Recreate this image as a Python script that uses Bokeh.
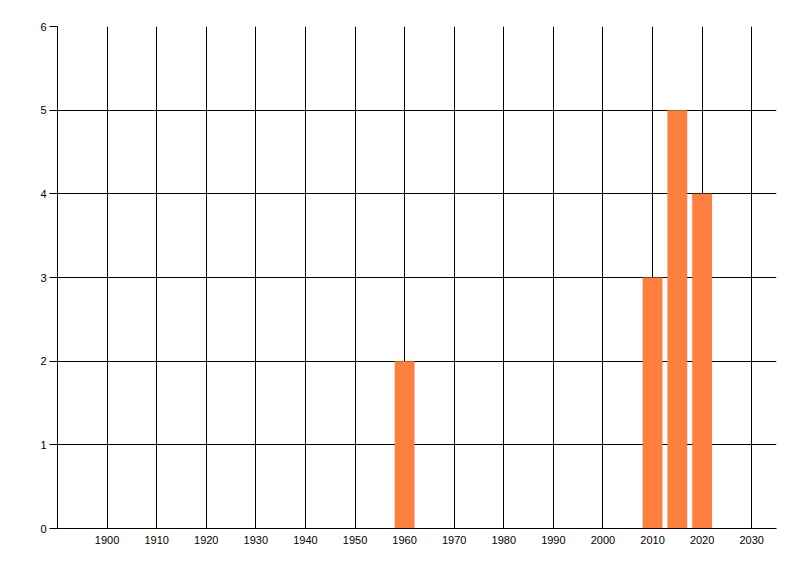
from bokeh.plotting import figure
from bokeh.models import FixedTicker, Range1d, ColumnDataSource
from bokeh.embed import file_html
from bokeh.resources import INLINE

years = [1960, 2010, 2015, 2020]
counts = [2, 3, 5, 4]
x_ticks = [1900, 1910, 1920, 1930, 1940, 1950, 1960, 1970, 1980, 1990, 2000, 2010, 2020, 2030]
y_ticks = [0, 1, 2, 3, 4, 5, 6]

src = ColumnDataSource(dict(year=years, count=counts))

p = figure(width=792, height=568, output_backend="svg", toolbar_location=None,
           x_range=Range1d(1890, 2035), y_range=Range1d(0, 6),
           min_border_left=57, min_border_right=16, min_border_top=26, min_border_bottom=40)
p.frame_width = 719
p.frame_height = 502
p.outline_line_color = None
p.background_fill_color = "white"
p.border_fill_color = "white"

p.vbar(x="year", top="count", width=4, bottom=0, source=src,
       fill_color="#FF7F3F", line_color=None)

p.xaxis.ticker = FixedTicker(ticks=x_ticks)
p.yaxis.ticker = FixedTicker(ticks=y_ticks)
p.xgrid.ticker = FixedTicker(ticks=x_ticks)
p.ygrid.ticker = FixedTicker(ticks=y_ticks)

for g in (p.xgrid, p.ygrid):
    g.grid_line_color = "black"
    g.grid_line_width = 1
    g.grid_line_alpha = 1

for ax in (p.xaxis, p.yaxis):
    ax.axis_line_color = "black"
    ax.axis_line_width = 1
    ax.minor_tick_line_color = None
    ax.major_label_text_font = "Liberation Sans"
    ax.major_label_text_font_size = "11px"
    ax.major_label_text_color = "black"

p.xaxis.major_tick_out = 0
p.xaxis.major_tick_in = 0
p.xaxis.major_label_standoff = 7
p.yaxis.major_tick_out = 8
p.yaxis.major_tick_in = 0
p.yaxis.major_tick_line_color = "black"
p.yaxis.major_label_standoff = 3

open("out.html", "w").write(file_html(p, INLINE))
